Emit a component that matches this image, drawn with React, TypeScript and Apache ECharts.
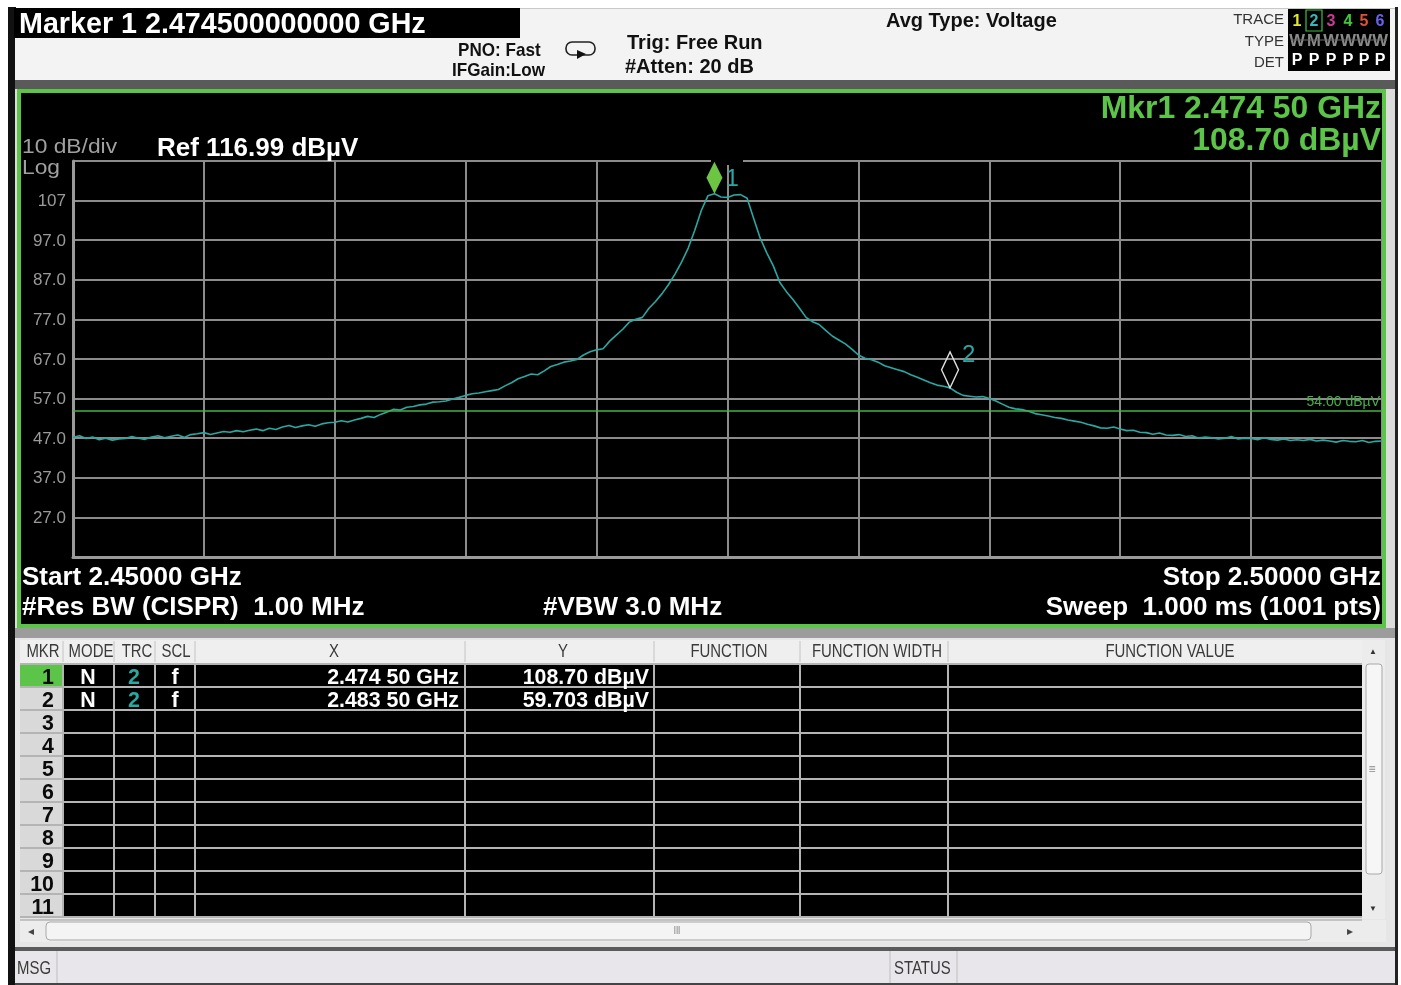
import React, { useEffect, useRef } from "react";
import * as echarts from "echarts";

// ---------------- data ----------------
const START_MHZ = 2450;
const STOP_MHZ = 2500;
const TRACE_STEP_MHZ = 0.25; // plotted sample spacing across the sweep
const TRACE_DBUV = [
  47.2, 47.6, 46.9, 47.3, 46.6, 47.0, 46.5, 46.8, 46.9, 47.4,
  47.0, 46.7, 47.3, 47.6, 47.1, 47.5, 47.8, 47.2, 47.9, 48.1,
  48.4, 47.9, 48.3, 48.7, 48.5, 48.9, 48.6, 49.0, 49.3, 48.9,
  49.5, 49.2, 49.8, 50.2, 49.7, 50.1, 50.4, 50.0, 50.6, 50.9,
  51.0, 51.4, 51.1, 51.6, 52.0, 52.5, 52.2, 53.0, 53.6, 54.3,
  54.1, 54.8, 55.0, 55.4, 55.6, 56.1, 56.2, 56.4, 56.9, 57.3,
  57.8, 58.2, 58.4, 58.7, 59.0, 59.3, 60.2, 61.0, 62.0, 62.6,
  63.2, 63.0, 64.0, 65.1, 65.6, 66.2, 66.5, 66.9, 68.0, 68.8,
  69.3, 69.6, 71.5, 73.0, 74.5, 76.3, 77.0, 77.5, 79.8, 81.5,
  83.5, 85.8, 88.5, 91.5, 95.0, 99.5, 104.5, 108.2, 108.7, 107.9,
  107.8, 108.4, 108.5, 107.6, 102.5, 97.5, 93.8, 90.5, 86.3, 84.0,
  82.0, 79.8, 77.5, 76.4, 75.7, 74.2, 72.8, 71.8, 70.8, 69.5,
  68.0, 67.2, 66.8, 66.2, 65.3, 64.8, 64.3, 63.8, 63.0, 62.4,
  61.7, 61.0, 60.4, 60.1, 59.7, 58.6, 57.8, 57.6, 57.4, 57.5,
  57.0, 56.4, 55.6, 54.8, 54.4, 54.2, 53.8, 53.2, 52.9, 52.6,
  52.2, 52.0, 51.6, 51.3, 51.0, 50.5, 50.1, 49.6, 49.5, 49.8,
  49.3, 48.9, 49.0, 48.5, 48.4, 48.0, 48.3, 47.8, 47.7, 47.9,
  47.4, 47.6, 47.0, 47.3, 47.1, 46.8, 47.0, 47.4, 46.8, 47.0,
  46.9, 46.6, 47.1, 46.7, 46.5, 46.8, 46.4, 46.6, 46.4, 46.7,
  46.3, 46.5, 46.3, 46.0, 46.4, 46.2, 46.1, 46.4, 45.9, 46.2,
  46.3,
];
const REF_LEVEL = 116.99;
const BOTTOM_LEVEL = 16.99;
const Y_GRID = [16.99, 26.99, 36.99, 46.99, 56.99, 66.99, 76.99, 86.99, 96.99, 106.99, 116.99];
const Y_LABELS = [26.99, 36.99, 46.99, 56.99, 66.99, 76.99, 86.99, 96.99, 106.99];
const DISPLAY_LINE = 54.0;
const MARKER_IDS = ["1", "2"];
const MARKER_MHZ = [2474.5, 2483.5];
const MARKER_DBUV = [108.7, 59.703];
const TABLE_ROWS = ["1", "2", "3", "4", "5", "6", "7", "8", "9", "10", "11"];
const TABLE_MODE = ["N", "N"];
const TABLE_TRC = ["2", "2"];
const TABLE_SCL = ["f", "f"];
const TABLE_X = ["2.474 50 GHz", "2.483 50 GHz"];
const TABLE_Y = ["108.70 dBµV", "59.703 dBµV"];
const TABLE_HEADERS = ["MKR", "MODE", "TRC", "SCL", "X", "Y", "FUNCTION", "FUNCTION WIDTH", "FUNCTION VALUE"];
const TRACE_NUMS = ["1", "2", "3", "4", "5", "6"];
const TRACE_TYPES = ["W", "M", "W", "W", "W", "W"];
const TRACE_DETS = ["P", "P", "P", "P", "P", "P"];

// ---------------- styling ----------------
const FONT = "'Liberation Sans', Arial, Helvetica, sans-serif";
const GREEN = "#5cc448";
const TEAL = "#2aa8a2";
const GRIDC = "#8c8c8c";
const TRACE_COLORS = ["#e4e436", "#35b8b8", "#c83c96", "#44c63c", "#e0503c", "#6a62e6"];

type TOpt = { size?: number; bold?: boolean; color?: string; align?: string; sx?: number; z?: number };
const T = (x: number, y: number, text: string, o: TOpt = {}) => ({
  type: "text",
  x,
  y,
  z: o.z ?? 20,
  scaleX: o.sx ?? 1,
  silent: true,
  style: {
    text,
    fill: o.color ?? "#fff",
    fontSize: o.size ?? 16,
    fontWeight: o.bold ? "bold" : "normal",
    fontFamily: FONT,
    align: o.align ?? "left",
    verticalAlign: "middle",
  },
});
const R = (x: number, y: number, w: number, h: number, fill: string, o: any = {}) => ({
  type: "rect",
  z: o.z ?? -5,
  silent: true,
  shape: { x, y, width: w, height: h, r: o.r ?? 0 },
  style: { fill, stroke: o.stroke ?? null, lineWidth: o.lw ?? 0 },
});
const L = (x1: number, y1: number, x2: number, y2: number, stroke: string, lw = 1, z = -3) => ({
  type: "line",
  z,
  silent: true,
  shape: { x1, y1, x2, y2 },
  style: { stroke, lineWidth: lw },
});

function buildGraphics() {
  const g: any[] = [];
  // frame & backgrounds
  g.push(R(0, 0, 1401, 985, "#ffffff", { z: -20 }));
  g.push(R(8, 7, 8, 978, "#111111", { z: -19 }));
  g.push(R(1395, 7, 3, 978, "#222222", { z: -19 }));
  g.push(R(15, 8, 1380, 74, "#f3f3f3", { z: -18 }));
  g.push(L(520, 8.5, 1395, 8.5, "#c8c8c8", 1, -17));
  g.push(R(14, 8, 506, 30, "#000000", { z: -17 }));
  g.push(R(15, 80, 1380, 9, "#5a5a5a", { z: -17 }));
  g.push(R(15, 89, 1380, 549, "#dcdcdc", { z: -18 }));
  g.push(R(17, 89, 1369, 539, "#000000", { z: -16 }));
  g.push({
    type: "rect",
    z: 5,
    silent: true,
    shape: { x: 19, y: 91, width: 1365, height: 535 },
    style: { fill: null, stroke: GREEN, lineWidth: 4 },
  });
  g.push(R(15, 628, 1380, 10, "#9c9c9c", { z: -17 }));
  g.push(R(15, 638, 1380, 311, "#e6e6e6", { z: -17 }));

  // header texts
  g.push(T(19, 23, "Marker 1 2.474500000000 GHz", { size: 28.7, bold: true }));
  g.push(T(458, 50, "PNO: Fast", { size: 18, bold: true, color: "#111", sx: 0.95 }));
  g.push(T(452, 70, "IFGain:Low", { size: 18, bold: true, color: "#111", sx: 0.95 }));
  // loop icon
  g.push({
    type: "rect",
    z: 20,
    silent: true,
    shape: { x: 566, y: 42, width: 29, height: 13, r: 6 },
    style: { fill: null, stroke: "#222", lineWidth: 1.6 },
  });
  g.push({
    type: "polygon",
    z: 21,
    silent: true,
    shape: { points: [[577, 50], [586, 54], [577, 59]] },
    style: { fill: "#111" },
  });
  g.push(T(627, 42, "Trig: Free Run", { size: 20, bold: true, color: "#111" }));
  g.push(T(625, 66, "#Atten: 20 dB", { size: 20, bold: true, color: "#111" }));
  g.push(T(886, 20, "Avg Type: Voltage", { size: 20, bold: true, color: "#111" }));
  g.push(T(1284, 18, "TRACE", { size: 15, color: "#333", align: "right" }));
  g.push(T(1284, 40, "TYPE", { size: 15, color: "#333", align: "right" }));
  g.push(T(1284, 61, "DET", { size: 15, color: "#333", align: "right" }));
  g.push(R(1288, 9, 102, 62, "#000000", { z: 10 }));
  const tx = [1297, 1314, 1331, 1348, 1364, 1380];
  g.push({
    type: "rect",
    z: 11,
    silent: true,
    shape: { x: 1306, y: 10, width: 16, height: 21 },
    style: { fill: null, stroke: "#3cc23c", lineWidth: 1.2 },
  });
  TRACE_NUMS.forEach((n, i) => {
    g.push(T(tx[i], 20, n, { size: 16, bold: true, color: TRACE_COLORS[i], align: "center" }));
    g.push(T(tx[i], 40, TRACE_TYPES[i], { size: 17, bold: true, color: "#8a8a8a", align: "center", sx: 0.98 }));
    g.push(T(tx[i], 59, TRACE_DETS[i], { size: 16, bold: true, color: "#ffffff", align: "center" }));
  });
  g.push(L(1291, 40, 1387, 40, "#6a6a6a", 1, 21));

  // plot panel texts
  g.push(T(1381, 107.5, "Mkr1 2.474 50 GHz", { size: 31, bold: true, color: GREEN, align: "right", sx: 1.03 }));
  g.push(T(1381, 139.5, "108.70 dBµV", { size: 31, bold: true, color: GREEN, align: "right", sx: 1.03 }));
  g.push(T(22, 146, "10 dB/div", { size: 20, color: "#a0a0a0", sx: 1.14 }));
  g.push(T(22, 167, "Log", { size: 20, color: "#a0a0a0", sx: 1.14 }));
  g.push(T(157, 147, "Ref 116.99 dBµV", { size: 26, bold: true }));
  g.push(T(22, 576, "Start 2.45000 GHz", { size: 26, bold: true }));
  g.push(T(22, 606, "#Res BW (CISPR)  1.00 MHz", { size: 26, bold: true }));
  g.push(T(543, 606, "#VBW 3.0 MHz", { size: 26, bold: true }));
  g.push(T(1381, 576, "Stop 2.50000 GHz", { size: 26, bold: true, align: "right" }));
  g.push(T(1381, 606, "Sweep  1.000 ms (1001 pts)", { size: 26, bold: true, align: "right" }));
  // clear gap in top graticule line behind marker label
  g.push(R(711, 157, 32, 8, "#000000", { z: 1 }));

  // ---------- marker table ----------
  const colX = [20, 63, 114, 155, 195, 465, 654, 800, 948, 1362];
  g.push(R(20, 640, 1342, 23, "#efefef", { z: -10 }));
  const hdrCenters = [43, 91, 137, 176, 334, 563, 729, 877, 1170];
  TABLE_HEADERS.forEach((h, i) =>
    g.push(T(hdrCenters[i], 651, h, { size: 18, color: "#3a3a3a", align: "center", sx: 0.83 }))
  );
  const rowTop = 664;
  const rowH = 23;
  const nRows = TABLE_ROWS.length;
  g.push(R(63, rowTop, 1299, rowH * nRows, "#000000", { z: -10 }));
  g.push(R(20, rowTop, 43, rowH * nRows, "#d9d9d9", { z: -10 }));
  g.push(R(20, rowTop, 43, rowH, GREEN, { z: -9 }));
  for (let k = 0; k <= nRows; k++) {
    g.push(L(20, rowTop + rowH * k, 1362, rowTop + rowH * k, "#b4b4b4", 2, -8));
  }
  g.push(L(20, rowTop + rowH * nRows + 3, 1362, rowTop + rowH * nRows + 3, "#9a9a9a", 1, -8));
  colX.slice(1, 9).forEach((x) => {
    g.push(L(x, 641, x, 662, "#c4c4c4", 1, -8));
    g.push(L(x, rowTop, x, rowTop + rowH * nRows, "#b4b4b4", 2, -8));
  });
  TABLE_ROWS.forEach((n, r) => {
    const cy = rowTop + rowH * r + 12.5;
    g.push(T(54, cy, n, { size: 23, bold: true, color: "#0a0a0a", align: "right", sx: 0.93 }));
    if (r < TABLE_X.length) {
      g.push(T(88, cy, TABLE_MODE[r], { size: 23, bold: true, align: "center", sx: 0.93 }));
      g.push(T(134, cy, TABLE_TRC[r], { size: 23, bold: true, color: TEAL, align: "center", sx: 0.93 }));
      g.push(T(175, cy, TABLE_SCL[r], { size: 23, bold: true, align: "center", sx: 0.93 }));
      g.push(T(459, cy, TABLE_X[r], { size: 23, bold: true, align: "right", sx: 0.93 }));
      g.push(T(649, cy, TABLE_Y[r], { size: 23, bold: true, align: "right", sx: 0.93 }));
    }
  });
  // vertical scrollbar
  g.push(R(1362, 640, 23, 279, "#ececec", { z: -9 }));
  g.push(R(1366, 664, 16, 210, "#f6f6f6", { z: -8, stroke: "#a8a8a8", lw: 1, r: 3 }));
  g.push(T(1373, 651, "▲", { size: 8, color: "#333", align: "center" }));
  g.push(T(1373, 908, "▼", { size: 8, color: "#333", align: "center" }));
  g.push(T(1372, 769, "≡", { size: 12, color: "#888", align: "center" }));
  // horizontal scrollbar
  g.push(R(20, 920, 1366, 22, "#ececec", { z: -9 }));
  g.push(R(46, 922, 1265, 18, "#f4f4f4", { z: -8, stroke: "#a8a8a8", lw: 1, r: 4 }));
  g.push(T(31, 931, "◂", { size: 12, color: "#444", align: "center" }));
  g.push(T(1350, 931, "▸", { size: 12, color: "#444", align: "center" }));
  g.push(T(677, 931, "III", { size: 10, color: "#777", align: "center", sx: 0.8 }));

  // status bar
  g.push(R(15, 947, 1380, 4, "#5a5a5a", { z: -9 }));
  g.push(R(15, 951, 1380, 32, "#e8e6ea", { z: -9 }));
  g.push(R(15, 983, 1380, 2, "#444", { z: -9 }));
  [57, 890, 957].forEach((x) => g.push(L(x, 951, x, 983, "#bdbdbd", 1, -8)));
  g.push(T(17, 968, "MSG", { size: 18, color: "#3a3a3a", sx: 0.83 }));
  g.push(T(894, 968, "STATUS", { size: 18, color: "#3a3a3a", sx: 0.83 }));
  return g;
}

export default function App() {
  const ref = useRef<HTMLDivElement>(null);
  useEffect(() => {
    if (!ref.current) return;
    const chart = echarts.init(ref.current, null, { renderer: "svg" });
    const traceData = TRACE_DBUV.map((v, i) => [START_MHZ + i * TRACE_STEP_MHZ, v]);
    const markerData = MARKER_IDS.map((id, i) => ({
      name: "Marker " + id,
      coord: [MARKER_MHZ[i], MARKER_DBUV[i]],
      symbol: "diamond",
      symbolSize: i === 0 ? [16, 32] : [17, 36],
      symbolOffset: i === 0 ? [0, -16] : [0, -18],
      itemStyle:
        i === 0
          ? { color: "#6cc644" }
          : { color: "rgba(0,0,0,0)", borderColor: "#e0e0e0", borderWidth: 1.5 },
      label: {
        show: true,
        formatter: id,
        position: "right",
        offset: i === 0 ? [-2, 0] : [-2, -16],
        color: TEAL,
        fontSize: 24,
        fontFamily: FONT,
      },
    }));
    chart.setOption({
      animation: false,
      backgroundColor: "transparent",
      grid: { left: 73, top: 161, width: 1309, height: 396, containLabel: false },
      xAxis: {
        type: "value",
        min: START_MHZ,
        max: STOP_MHZ,
        interval: 5,
        axisLine: { show: true, onZero: false, lineStyle: { color: "#9a9a9a", width: 3 } },
        axisTick: { show: false },
        axisLabel: { show: false },
        splitLine: { show: true, lineStyle: { color: GRIDC, width: 2 } },
      },
      yAxis: {
        type: "value",
        min: BOTTOM_LEVEL,
        max: REF_LEVEL,
        axisLine: { show: true, onZero: false, lineStyle: { color: "#9a9a9a", width: 3 } },
        axisTick: { show: false, customValues: Y_GRID },
        axisLabel: {
          show: true,
          customValues: Y_LABELS,
          color: "#9a9a9a",
          fontSize: 17,
          fontFamily: FONT,
          margin: 7,
          formatter: (v: number) => (v >= 100 ? String(Math.round(v)) : v.toFixed(1)),
        },
        splitLine: { show: true, lineStyle: { color: GRIDC, width: 2 } },
      },
      series: [
        {
          type: "line",
          name: "Trace 2",
          data: traceData,
          showSymbol: false,
          symbol: "none",
          z: 3,
          lineStyle: { color: TEAL, width: 1.6 },
          markLine: {
            silent: true,
            symbol: "none",
            data: [{ yAxis: DISPLAY_LINE }],
            lineStyle: { color: "#46b046", width: 1.6, type: "solid" },
            label: {
              show: true,
              position: "insideEndTop",
              formatter: DISPLAY_LINE.toFixed(2) + " dBµV",
              color: "#46b046",
              fontSize: 14,
              fontFamily: FONT,
              distance: [2, 2],
            },
          },
          markPoint: { silent: true, data: markerData },
        },
      ],
      graphic: { elements: buildGraphics() },
    });
    return () => chart.dispose();
  }, []);
  return (
    <div
      ref={ref}
      style={{ position: "fixed", left: 0, top: 0, width: 1401, height: 985 }}
    />
  );
}
